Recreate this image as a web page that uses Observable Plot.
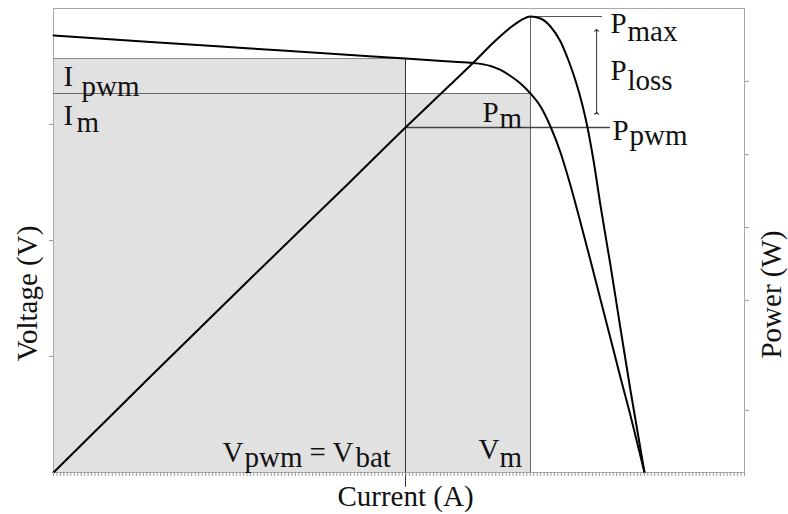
<!DOCTYPE html>
<html>
<head>
<meta charset="utf-8">
<script src="https://cdn.jsdelivr.net/npm/d3@7"></script>
<script src="https://cdn.jsdelivr.net/npm/@observablehq/plot@0.6"></script>
<style>
html, body { margin: 0; padding: 0; background: #fff; }
#chart svg { display: block; }
</style>
</head>
<body>
<div id="chart"></div>
<script>
// ---- data (axis units 0..100) ----
const ivCurveX = [0, 14.04, 28.51, 42.98, 50.94, 57.45, 60.78, 63.24, 64.69, 66.14, 67.58, 69.03, 70.48, 71.92, 73.37, 74.82, 76.27, 77.71, 79.16, 80.61, 82.05, 83.50, 85.53];
const ivCurveY = [94.18, 92.78, 91.38, 89.98, 89.22, 88.58, 88.25, 87.61, 86.75, 85.45, 83.84, 81.68, 78.88, 74.57, 68.97, 61.85, 53.88, 45.69, 37.28, 28.88, 20.47, 12.28, 0];
const pvCurveX = [0, 14.04, 28.51, 42.98, 50.94, 57.45, 60.93, 63.82, 66.14, 67.58, 69.03, 70.48, 71.92, 73.37, 74.53, 75.54, 76.56, 77.28, 78.15, 79.16, 80.61, 82.05, 83.50, 85.53];
const pvCurveY = [0, 20.69, 41.81, 62.72, 74.35, 83.62, 88.58, 92.89, 95.91, 97.41, 98.28, 97.84, 96.12, 92.89, 88.79, 84.48, 79.09, 74.35, 67.24, 57.54, 44.61, 31.03, 17.67, 0];

// operating points: [pwm, mpp]
const opVoltage = [50.94, 69.03];   // V_pwm, V_m
const opCurrent = [89.22, 81.68];   // I_pwm, I_m
const opPower   = [74.35, 98.28];   // P_pwm, P_max
const powerLineEnd = [80.6, 79.45]; // right ends of P_pwm and P_max guide lines
const vPwmLineBottom = -3.2;        // V_pwm guide line runs below the axis
const lossArrowX = [78.6];
const lossArrowY = [77.4, 95.3];

const voltageTicks = [25, 50, 75];
const powerTicks = [84.3, 68.5, 52.8, 37.1, 13.4];

const labelMain = ["I", "I", "P", "P", "P", "P", "V", "= V", "V"];
const labelSub  = ["pwm", "m", "m", "max", "loss", "pwm", "pwm", "bat", "m"];
const axisTitles = ["Current (A)", "Voltage (V)", "Power (W)"];

// ---- build ----
const iv = ivCurveX.map((x, i) => ({x, y: ivCurveY[i]}));
const pv = pvCurveX.map((x, i) => ({x, y: pvCurveY[i]}));
const [vPwm, vM] = opVoltage;
const [iPwm, iM] = opCurrent;
const [pPwm, pMax] = opPower;

const FS = 29;
const font = "'Liberation Serif', 'Times New Roman', serif";

// label anchors (data) and pixel offsets for main / subscript parts
const labelLayout = [
  {x: 0, y: iPwm, m: [10, 17.7], s: [28, 27.7]},
  {x: 0, y: iM, m: [10, 22.7], s: [23, 29.7]},
  {x: vM, y: pPwm, m: [-48, -14.3], s: [-31, -8.3]},
  {x: powerLineEnd[1], y: pMax, m: [8, 7.7], s: [25, 15.7]},
  {x: powerLineEnd[1], y: (pMax + pPwm) / 2, m: [8, -0.8], s: [25, 9.2]},
  {x: powerLineEnd[0], y: pPwm, m: [2, 3.7], s: [19, 8.7]},
  {x: vPwm, y: 0, m: [-183, -19.3], s: [-161, -14.3]},
  {x: vPwm, y: 0, m: [-96, -19.3], s: [-50, -14.3]},
  {x: vM, y: 0, m: [-52, -22.3], s: [-31, -14.3]}
];

const txt = {fontSize: FS, fill: "#111", textAnchor: "start", lineAnchor: "middle"};
const labelMarks = [];
labelLayout.forEach((L, i) => {
  labelMarks.push(Plot.text([labelMain[i]], {...txt, x: () => L.x, y: () => L.y, text: d => d, dx: L.m[0], dy: L.m[1]}));
  labelMarks.push(Plot.text([labelSub[i]], {...txt, x: () => L.x, y: () => L.y, text: d => d, dx: L.s[0], dy: L.s[1]}));
});

const chart = Plot.plot({
  width: 788,
  height: 514,
  marginLeft: 53,
  marginRight: 44,
  marginTop: 8,
  marginBottom: 42,
  x: {domain: [0, 100]},
  y: {domain: [0, 100]},
  style: {fontFamily: font, background: "#fff", color: "#111", overflow: "visible"},
  marks: [
    // shaded power rectangles
    Plot.rect(opVoltage.map((v, i) => ({v, c: opCurrent[i]})), {x1: 0, x2: "v", y1: 0, y2: "c", fill: "#e1e1e1"}),
    Plot.frame({stroke: "#a8a8a8"}),
    // guide lines
    Plot.ruleY([iPwm], {x1: 0, x2: vPwm, stroke: "#8a8a8a", strokeWidth: 1}),
    Plot.ruleY([iM], {x1: 0, x2: vM, stroke: "#6a6a6a", strokeWidth: 1}),
    Plot.ruleX([vPwm], {y1: vPwmLineBottom, y2: iPwm, stroke: "#333", strokeWidth: 1, clip: false}),
    Plot.ruleX([vM], {y1: 0, y2: pMax, stroke: "#666", strokeWidth: 1}),
    Plot.ruleY([pMax], {x1: vM, x2: powerLineEnd[1], stroke: "#555", strokeWidth: 1.2}),
    Plot.ruleY([pPwm], {x1: vPwm, x2: powerLineEnd[0], stroke: "#444", strokeWidth: 1.3}),
    Plot.link(lossArrowX, {x1: d => d, x2: d => d, y1: lossArrowY[0], y2: lossArrowY[1], stroke: "#333", strokeWidth: 1, markerStart: "arrow", markerEnd: "arrow"}),
    // curves
    Plot.line(iv, {x: "x", y: "y", stroke: "#000", strokeWidth: 2, curve: "monotone-x"}),
    Plot.line(pv, {x: "x", y: "y", stroke: "#000", strokeWidth: 2, curve: "monotone-x"}),
    // axes
    Plot.axisX({ticks: 250, tickSize: 4, tickFormat: () => "", stroke: "#9a9a9a", label: null}),
    Plot.axisY({anchor: "left", ticks: voltageTicks, tickSize: 4, tickFormat: () => "", stroke: "#9a9a9a", label: null}),
    Plot.axisY({anchor: "right", ticks: powerTicks, tickSize: 4, tickFormat: () => "", stroke: "#9a9a9a", label: null}),
    // axis titles
    Plot.text([axisTitles[0]], {x: () => vPwm, frameAnchor: "bottom", text: d => d, textAnchor: "middle", lineAnchor: "middle", dy: 24, fontSize: FS, fill: "#111"}),
    Plot.text([axisTitles[1]], {frameAnchor: "left", text: d => d, rotate: -90, textAnchor: "middle", lineAnchor: "middle", dx: -26, dy: 53, fontSize: FS, fill: "#111"}),
    Plot.text([axisTitles[2]], {frameAnchor: "right", text: d => d, rotate: -90, textAnchor: "middle", lineAnchor: "middle", dx: 27, dy: 54, fontSize: FS, fill: "#111"}),
    ...labelMarks
  ]
});
document.getElementById("chart").appendChild(chart);
</script>
</body>
</html>
